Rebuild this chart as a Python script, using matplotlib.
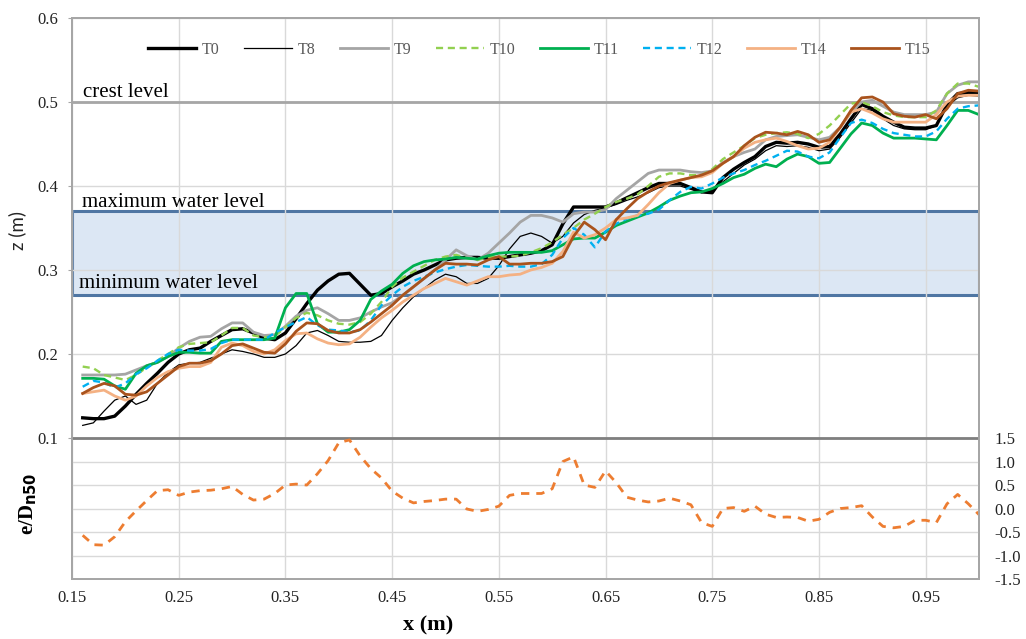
import numpy as np
import matplotlib.pyplot as plt
from matplotlib.patches import Rectangle

# profile positions (m)
x = np.round(np.arange(0.16, 1.005, 0.01), 2)

t0 = [0.124, 0.123, 0.123, 0.126, 0.138, 0.152, 0.165, 0.177, 0.190, 0.200,
      0.205, 0.207, 0.215, 0.222, 0.229, 0.230, 0.225, 0.219, 0.217, 0.225,
      0.242, 0.260, 0.276, 0.287, 0.295, 0.296, 0.283, 0.270, 0.272, 0.280,
      0.287, 0.295, 0.300, 0.306, 0.312, 0.314, 0.315, 0.315, 0.314, 0.314,
      0.316, 0.318, 0.320, 0.323, 0.330, 0.355, 0.375, 0.375, 0.375, 0.375,
      0.380, 0.386, 0.392, 0.398, 0.403, 0.403, 0.403, 0.398, 0.393, 0.392,
      0.410, 0.420, 0.428, 0.435, 0.447, 0.452, 0.451, 0.452, 0.450, 0.446,
      0.447, 0.462, 0.480, 0.497, 0.492, 0.483, 0.476, 0.470, 0.469, 0.469,
      0.472, 0.497, 0.510, 0.511, 0.511]
t8 = [0.115, 0.118, 0.132, 0.145, 0.150, 0.140, 0.145, 0.165, 0.178, 0.187,
      0.189, 0.190, 0.195, 0.200, 0.205, 0.203, 0.200, 0.196, 0.196, 0.200,
      0.210, 0.225, 0.228, 0.222, 0.215, 0.214, 0.214, 0.215, 0.222, 0.240,
      0.255, 0.268, 0.278, 0.288, 0.295, 0.292, 0.284, 0.284, 0.290, 0.305,
      0.325, 0.340, 0.344, 0.340, 0.332, 0.340, 0.356, 0.366, 0.371, 0.374,
      0.378, 0.383, 0.387, 0.392, 0.398, 0.400, 0.400, 0.396, 0.392, 0.395,
      0.405, 0.415, 0.425, 0.432, 0.442, 0.448, 0.447, 0.448, 0.446, 0.442,
      0.444, 0.458, 0.475, 0.492, 0.490, 0.480, 0.472, 0.468, 0.467, 0.467,
      0.472, 0.495, 0.505, 0.508, 0.507]
t9 = [0.175, 0.175, 0.175, 0.175, 0.176, 0.181, 0.186, 0.190, 0.197, 0.207,
      0.215, 0.220, 0.221, 0.230, 0.237, 0.237, 0.226, 0.222, 0.223, 0.233,
      0.245, 0.252, 0.255, 0.248, 0.240, 0.240, 0.243, 0.250, 0.256, 0.261,
      0.270, 0.280, 0.290, 0.300, 0.312, 0.324, 0.317, 0.312, 0.320, 0.332,
      0.344, 0.357, 0.365, 0.365, 0.362, 0.357, 0.367, 0.369, 0.369, 0.372,
      0.385, 0.395, 0.405, 0.415, 0.419, 0.419, 0.419, 0.417, 0.416, 0.418,
      0.428, 0.435, 0.440, 0.444, 0.455, 0.459, 0.460, 0.461, 0.458, 0.455,
      0.458, 0.470, 0.488, 0.500, 0.502, 0.495, 0.488, 0.485, 0.485, 0.485,
      0.488, 0.510, 0.520, 0.524, 0.524]
t10 = [0.185, 0.183, 0.175, 0.172, 0.169, 0.175, 0.184, 0.192, 0.200, 0.208,
       0.212, 0.213, 0.214, 0.222, 0.231, 0.231, 0.222, 0.220, 0.221, 0.232,
       0.243, 0.249, 0.246, 0.240, 0.236, 0.235, 0.238, 0.248, 0.262, 0.280,
       0.291, 0.298, 0.305, 0.312, 0.316, 0.318, 0.314, 0.312, 0.315, 0.316,
       0.316, 0.317, 0.321, 0.326, 0.333, 0.342, 0.350, 0.360, 0.367, 0.375,
       0.381, 0.385, 0.390, 0.400, 0.411, 0.415, 0.415, 0.413, 0.413, 0.420,
       0.432, 0.440, 0.448, 0.457, 0.461, 0.463, 0.464, 0.462, 0.457, 0.462,
       0.472, 0.485, 0.498, 0.500, 0.495, 0.488, 0.484, 0.482, 0.482, 0.482,
       0.490, 0.510, 0.522, 0.522, 0.518]
t11 = [0.171, 0.171, 0.170, 0.162, 0.158, 0.177, 0.186, 0.190, 0.197, 0.202,
       0.202, 0.201, 0.201, 0.215, 0.217, 0.217, 0.217, 0.217, 0.219, 0.255,
       0.272, 0.272, 0.236, 0.226, 0.226, 0.229, 0.240, 0.265, 0.275, 0.283,
       0.296, 0.305, 0.310, 0.312, 0.313, 0.315, 0.314, 0.313, 0.317, 0.320,
       0.321, 0.321, 0.321, 0.321, 0.323, 0.330, 0.337, 0.338, 0.338, 0.345,
       0.353, 0.358, 0.363, 0.368, 0.375, 0.383, 0.388, 0.392, 0.393, 0.397,
       0.403, 0.410, 0.414, 0.421, 0.426, 0.423, 0.432, 0.438, 0.435, 0.427,
       0.428, 0.445, 0.462, 0.475, 0.472, 0.463, 0.457, 0.457, 0.457, 0.456,
       0.455, 0.472, 0.490, 0.490, 0.485]
t12 = [0.161, 0.168, 0.166, 0.160, 0.165, 0.176, 0.183, 0.192, 0.200, 0.205,
       0.204, 0.204, 0.206, 0.213, 0.217, 0.217, 0.217, 0.217, 0.225, 0.232,
       0.238, 0.244, 0.234, 0.229, 0.228, 0.226, 0.228, 0.240, 0.258, 0.270,
       0.280, 0.287, 0.292, 0.297, 0.301, 0.304, 0.306, 0.305, 0.304, 0.304,
       0.305, 0.304, 0.304, 0.307, 0.318, 0.338, 0.350, 0.342, 0.327, 0.346,
       0.355, 0.361, 0.365, 0.367, 0.372, 0.383, 0.393, 0.399, 0.397, 0.403,
       0.410, 0.415, 0.419, 0.425, 0.430, 0.436, 0.442, 0.441, 0.435, 0.433,
       0.440, 0.458, 0.475, 0.479, 0.475, 0.468, 0.463, 0.461, 0.459, 0.459,
       0.465, 0.480, 0.492, 0.495, 0.496]
t14 = [0.153, 0.155, 0.157, 0.150, 0.145, 0.150, 0.162, 0.172, 0.179, 0.183,
       0.185, 0.185, 0.190, 0.208, 0.213, 0.210, 0.203, 0.200, 0.205, 0.216,
       0.224, 0.225, 0.218, 0.213, 0.211, 0.212, 0.220, 0.232, 0.243, 0.252,
       0.262, 0.270, 0.278, 0.284, 0.290, 0.286, 0.282, 0.287, 0.292, 0.292,
       0.294, 0.295, 0.300, 0.303, 0.308, 0.322, 0.345, 0.338, 0.342, 0.350,
       0.360, 0.362, 0.365, 0.378, 0.392, 0.403, 0.407, 0.410, 0.411, 0.416,
       0.427, 0.435, 0.445, 0.452, 0.455, 0.457, 0.453, 0.448, 0.444, 0.445,
       0.452, 0.470, 0.488, 0.492, 0.487, 0.480, 0.476, 0.476, 0.476, 0.476,
       0.485, 0.500, 0.507, 0.508, 0.508]
t15 = [0.153, 0.160, 0.165, 0.162, 0.152, 0.151, 0.155, 0.165, 0.175, 0.185,
       0.189, 0.189, 0.192, 0.200, 0.210, 0.212, 0.207, 0.202, 0.201, 0.212,
       0.227, 0.237, 0.236, 0.228, 0.225, 0.225, 0.229, 0.238, 0.248, 0.258,
       0.270, 0.280, 0.290, 0.300, 0.308, 0.307, 0.307, 0.306, 0.312, 0.316,
       0.307, 0.307, 0.308, 0.308, 0.310, 0.316, 0.340, 0.357, 0.348, 0.336,
       0.360, 0.373, 0.385, 0.393, 0.400, 0.404, 0.407, 0.410, 0.413, 0.418,
       0.427, 0.435, 0.448, 0.458, 0.464, 0.463, 0.461, 0.465, 0.461, 0.452,
       0.455, 0.470, 0.490, 0.505, 0.506, 0.500, 0.486, 0.483, 0.482, 0.485,
       0.480, 0.492, 0.510, 0.514, 0.513]

# erosion/accretion e/Dn50
e_dn50 = [-0.57, -0.77, -0.78, -0.60, -0.28, -0.05, 0.17, 0.38, 0.40, 0.28,
          0.35, 0.38, 0.39, 0.42, 0.47, 0.30, 0.18, 0.20, 0.32, 0.50,
          0.52, 0.50, 0.74, 1.02, 1.40, 1.46, 1.12, 0.85, 0.65, 0.37,
          0.22, 0.12, 0.15, 0.17, 0.20, 0.20, -0.01, -0.06, -0.02, 0.05,
          0.28, 0.32, 0.32, 0.32, 0.42, 1.00, 1.10, 0.50, 0.45, 0.80,
          0.55, 0.24, 0.18, 0.14, 0.16, 0.22, 0.16, 0.08, -0.30, -0.38,
          0.00, 0.02, -0.06, 0.05, -0.12, -0.19, -0.18, -0.19, -0.27, -0.23,
          -0.08, 0.00, 0.02, 0.06, -0.18, -0.38, -0.41, -0.38, -0.25, -0.25,
          -0.30, 0.10, 0.30, 0.10, -0.13]

names = ['T0', 'T8', 'T9', 'T10', 'T11', 'T12', 'T14', 'T15']
profiles = [t0, t8, t9, t10, t11, t12, t14, t15]
colors = ['#000000', '#000000', '#a5a5a5', '#92d050', '#00b050', '#00b0f0', '#f4b183', '#a9531d']
widths = [2.4, 0.9, 2.0, 1.7, 2.0, 1.7, 2.0, 2.0]
styles = ['-', '-', '-', (0, (3, 2)), '-', (0, (3, 2)), '-', '-']

crest = 0.5
wl_min, wl_max = 0.27, 0.37

serif = 'Liberation Serif'

fig = plt.figure(figsize=(10.26, 6.39), dpi=100)
ax = fig.add_axes([0.0702, 0.0939, 0.8840, 0.8779])
ax2 = ax.twinx()

ax.set_xlim(0.15, 1.0)
ax.set_ylim(-0.0679, 0.6)
ax2.set_ylim(-1.5, 10.44)

ax.set_xticks([0.15, 0.25, 0.35, 0.45, 0.55, 0.65, 0.75, 0.85, 0.95])
ax.set_xticklabels(['0.15', '0.25', '0.35', '0.45', '0.55', '0.65', '0.75', '0.85', '0.95'])
ax.set_yticks([0.1, 0.2, 0.3, 0.4, 0.5, 0.6])
ax.set_yticklabels(['0.1', '0.2', '0.3', '0.4', '0.5', '0.6'])
ax2.set_yticks([-1.5, -1.0, -0.5, 0.0, 0.5, 1.0, 1.5])
ax2.set_yticklabels(['-1.5', '-1.0', '-0.5', '0.0', '0.5', '1.0', '1.5'])

for a in (ax, ax2):
    for s in a.spines.values():
        s.set_color('#a6a6a6')
        s.set_linewidth(1.3)
    for lab in a.get_xticklabels() + a.get_yticklabels():
        lab.set_fontfamily(serif)
        lab.set_fontsize(12)
        lab.set_color('#222222')

ax.tick_params(axis='x', length=0, pad=8)
ax.tick_params(axis='y', length=3, color='#a6a6a6', pad=7)
ax2.tick_params(axis='y', length=0, pad=11)

ax.set_axisbelow(True)
ax.grid(True, color='#d9d9d9', linewidth=1)
ax2.grid(True, axis='y', color='#d9d9d9', linewidth=1)

# water level band and crest
ax.add_patch(Rectangle((0.15, wl_min), 0.85, wl_max - wl_min, facecolor='#dce7f4',
                       edgecolor='#4f76a3', linewidth=2.2, zorder=0.3))
ax.axhline(crest, color='#a6a6a6', linewidth=2, zorder=1.8)
ax2.axhline(1.5, color='#7f7f7f', linewidth=2, zorder=2)

for name, z, c, lw, ls in zip(names, profiles, colors, widths, styles):
    ax.plot(x, z, color=c, linewidth=lw, linestyle=ls, label=name, zorder=2)

ax2.plot(x, e_dn50, color='#ed7d31', linewidth=2, linestyle=(0, (3, 2.5)))

ax.text(0.1603, 0.506, 'crest level', fontfamily=serif, fontsize=15, va='baseline')
ax.text(0.1594, 0.375, 'maximum water level', fontfamily=serif, fontsize=15, va='baseline')
ax.text(0.1566, 0.2786, 'minimum water level', fontfamily=serif, fontsize=15, va='baseline')

leg = ax.legend(loc='center', bbox_to_anchor=(0.515, 0.943), ncol=8, frameon=False,
                handlelength=3.0, handletextpad=0.35, columnspacing=1.55,
                prop={'family': serif, 'size': 11.5})
for t in leg.get_texts():
    t.set_color('#595959')

fig.text(428 / 1026, 1 - 625 / 639, 'x (m)', fontfamily=serif, fontsize=16,
         fontweight='bold', ha='center', va='center')
fig.text(28 / 1026, 1 - 504 / 639, r'e/D$_{\mathbf{n50}}$', fontfamily=serif, fontsize=15,
         fontweight='bold', rotation=90, ha='center', va='center')
fig.text(17 / 1026, 1 - 230 / 639, 'z (m)', fontfamily='Lato', fontsize=13.5,
         rotation=90, ha='center', va='center', color='#262626')

plt.savefig('out.png')
